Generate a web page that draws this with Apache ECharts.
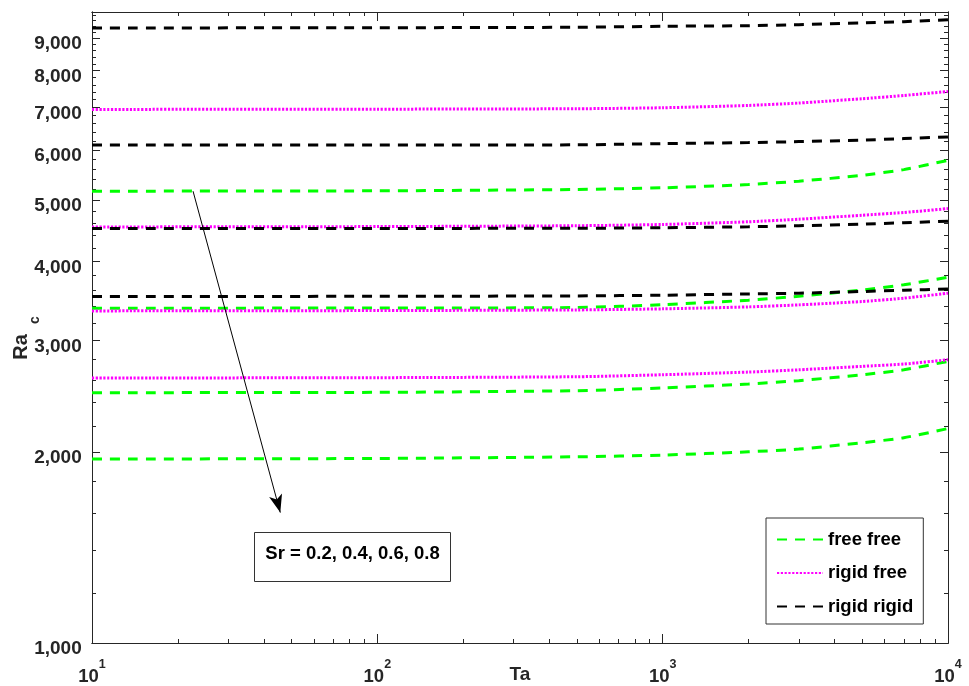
<!DOCTYPE html>
<html>
<head>
<meta charset="utf-8">
<script src="https://cdn.jsdelivr.net/npm/echarts@6/dist/echarts.min.js"></script>
<style>
  html, body { margin: 0; padding: 0; background: #fff; }
  #chart { width: 969px; height: 686px; }
</style>
</head>
<body>
<div id="chart"></div>
<script>
// Taylor number sample points (x axis, log scale)
const taValues = [10, 100, 500, 1000, 2000, 3000, 5000, 7000, 10000];

// Critical Rayleigh number, free-free boundaries, Sr = 0.2, 0.4, 0.6, 0.8
const freeFreeSr02 = [5163, 5170, 5195, 5227, 5290, 5354, 5470, 5584, 5776];
const freeFreeSr04 = [3375, 3377, 3383, 3418, 3475, 3525, 3605, 3675, 3776];
const freeFreeSr06 = [2483, 2486, 2501, 2526, 2563, 2594, 2650, 2698, 2782];
const freeFreeSr08 = [1951, 1955, 1967, 1979, 2003, 2023, 2070, 2108, 2180];

// Rigid-free boundaries
const rigidFreeSr02 = [6949, 6955, 6966, 6991, 7050, 7112, 7224, 7310, 7417];
const rigidFreeSr04 = [4534, 4540, 4554, 4575, 4620, 4663, 4731, 4778, 4847];
const rigidFreeSr06 = [3342, 3346, 3354, 3367, 3391, 3416, 3458, 3500, 3564];
const rigidFreeSr08 = [2619, 2622, 2631, 2650, 2676, 2698, 2732, 2755, 2799];

// Rigid-rigid boundaries
const rigidRigidSr02 = [9342, 9350, 9366, 9400, 9420, 9454, 9513, 9558, 9627];
const rigidRigidSr04 = [6104, 6106, 6110, 6137, 6160, 6182, 6216, 6250, 6289];
const rigidRigidSr06 = [4509, 4510, 4512, 4521, 4537, 4554, 4580, 4603, 4630];
const rigidRigidSr08 = [3521, 3524, 3529, 3538, 3555, 3564, 3586, 3602, 3620];

// Axis ticks and labels
const xMajorTicks = [10, 100, 1000, 10000];
const xMinorTicks = [20, 30, 40, 50, 60, 70, 80, 90,
                     200, 300, 400, 500, 600, 700, 800, 900,
                     2000, 3000, 4000, 5000, 6000, 7000, 8000, 9000];
const yMajorTicks = [1000, 2000, 3000, 4000, 5000, 6000, 7000, 8000, 9000];
const yMinorTicks = [];
for (let v = 1200; v <= 9800; v += 200) { if (v % 1000 !== 0) yMinorTicks.push(v); }

// Annotation arrow (data coordinates) and its caption
const arrowStart = [22.6, 5163];
const arrowEnd = [45.7, 1606];
const srCaption = 'Sr = 0.2, 0.4, 0.6, 0.8';
const legendNames = ['free free', 'rigid free', 'rigid rigid'];

const FONT = "'Liberation Sans', Arial, Helvetica, sans-serif";
const AXIS_COLOR = '#262626';

const groups = [
  { name: legendNames[0], color: '#00ff00', dash: [10, 8], width: 3, sets: [freeFreeSr02, freeFreeSr04, freeFreeSr06, freeFreeSr08] },
  { name: legendNames[1], color: '#ff00ff', dash: [2.2, 1.6], width: 3, sets: [rigidFreeSr02, rigidFreeSr04, rigidFreeSr06, rigidFreeSr08] },
  { name: legendNames[2], color: '#000000', dash: [10, 8], width: 3, sets: [rigidRigidSr02, rigidRigidSr04, rigidRigidSr06, rigidRigidSr08] }
];

const series = [];
groups.forEach(function (g, gi) {
  g.sets.forEach(function (vals) {
    series.push({
      type: 'line',
      name: g.name,
      xAxisIndex: 0,
      yAxisIndex: 0,
      data: taValues.map(function (t, i) { return [t, vals[i]]; }),
      symbol: 'none',
      smooth: 0.2,
      z: 2 + gi,
      lineStyle: { color: g.color, width: g.width, type: g.dash },
      itemStyle: { color: g.color }
    });
  });
});

// Arrow pointing in the direction of increasing Sr
series.push({
  type: 'line',
  name: 'arrow',
  xAxisIndex: 0,
  yAxisIndex: 0,
  data: [],
  symbol: 'none',
  z: 6,
  markLine: {
    silent: true,
    animation: false,
    symbol: ['none', 'arrow'],
    symbolSize: [10, 18],
    label: { show: false },
    lineStyle: { color: '#000', width: 1, type: 'solid' },
    itemStyle: { color: '#000' },
    data: [[{ coord: arrowStart }, { coord: arrowEnd }]]
  }
});

function xAxisDef(position, ticks, len, withLabels) {
  return {
    type: 'log', logBase: 10, min: 10, max: 10000, position: position,
    axisLine: { show: true, onZero: false, lineStyle: { color: AXIS_COLOR, width: 1 } },
    axisTick: { show: true, inside: true, length: len, customValues: ticks, lineStyle: { color: AXIS_COLOR, width: 1 } },
    axisLabel: withLabels ? {
      show: true, margin: 15, customValues: xMajorTicks,
      formatter: function (v) { return '{b|10}{s|' + Math.round(Math.log10(v)) + '}'; },
      rich: {
        b: { fontSize: 18.5, fontWeight: 'bold', fontFamily: FONT, color: AXIS_COLOR, lineHeight: 28, verticalAlign: 'bottom' },
        s: { fontSize: 12.5, fontWeight: 'bold', fontFamily: FONT, color: AXIS_COLOR, lineHeight: 12, verticalAlign: 'top' }
      }
    } : { show: false },
    splitLine: { show: false },
    minorTick: { show: false },
    minorSplitLine: { show: false }
  };
}

function yAxisDef(position, ticks, len, withLabels) {
  return {
    type: 'log', logBase: 10, min: 1000, max: 9900, position: position,
    axisLine: { show: true, onZero: false, lineStyle: { color: AXIS_COLOR, width: 1 } },
    axisTick: { show: true, inside: true, length: len, customValues: ticks, lineStyle: { color: AXIS_COLOR, width: 1 } },
    axisLabel: withLabels ? {
      show: true, margin: 10, customValues: yMajorTicks,
      formatter: function (v) { return '{v|' + Math.round(v).toLocaleString('en-US') + '}{p| }'; },
      rich: {
        v: { fontSize: 19, fontWeight: 'bold', fontFamily: FONT, color: AXIS_COLOR, lineHeight: 19, verticalAlign: 'bottom' },
        p: { fontSize: 1, lineHeight: 31, verticalAlign: 'bottom' }
      }
    } : { show: false },
    splitLine: { show: false },
    minorTick: { show: false },
    minorSplitLine: { show: false }
  };
}

const chart = echarts.init(document.getElementById('chart'), null, { renderer: 'canvas' });
chart.setOption({
  animation: false,
  backgroundColor: '#ffffff',
  grid: { left: 92, right: 21, top: 12, bottom: 40, containLabel: false },
  xAxis: [
    xAxisDef('bottom', xMajorTicks, 9, true),
    xAxisDef('top', xMajorTicks, 9, false),
    xAxisDef('bottom', xMinorTicks, 4, false),
    xAxisDef('top', xMinorTicks, 4, false)
  ],
  yAxis: [
    yAxisDef('left', yMajorTicks, 8, true),
    yAxisDef('right', yMajorTicks, 8, false),
    yAxisDef('left', yMinorTicks, 4, false),
    yAxisDef('right', yMinorTicks, 4, false)
  ],
  legend: {
    data: legendNames,
    orient: 'vertical',
    left: 766,
    top: 518,
    padding: [12, 10, 8, 10],
    itemGap: 14.5,
    itemWidth: 46,
    itemHeight: 14,
    borderColor: '#333',
    borderWidth: 1,
    backgroundColor: '#fff',
    selectedMode: false,
    itemStyle: { opacity: 0 },
    textStyle: { fontSize: 18.5, fontWeight: 'bold', color: '#000', fontFamily: FONT, lineHeight: 18 }
  },
  graphic: [
    {
      type: 'group', left: 254, top: 532, z: 10,
      children: [
        { type: 'rect', shape: { x: 0, y: 0, width: 196, height: 49 }, style: { fill: '#fff', stroke: '#333', lineWidth: 1 } },
        { type: 'text', x: 98, y: 21, style: { text: srCaption, fontSize: 18.5, fontWeight: 'bold', fontFamily: FONT, fill: '#000', align: 'center', verticalAlign: 'middle' } }
      ]
    },
    { type: 'text', x: 520, y: 675, z: 10, style: { text: 'Ta', fontSize: 19, fontWeight: 'bold', fontFamily: FONT, fill: AXIS_COLOR, align: 'center', verticalAlign: 'middle' } },
    { type: 'text', x: 21, y: 347, rotation: Math.PI / 2, z: 10, style: { text: 'Ra', fontSize: 20, fontWeight: 'bold', fontFamily: FONT, fill: AXIS_COLOR, align: 'center', verticalAlign: 'middle' } },
    { type: 'text', x: 35, y: 320, rotation: Math.PI / 2, z: 10, style: { text: 'c', fontSize: 14, fontWeight: 'bold', fontFamily: FONT, fill: AXIS_COLOR, align: 'center', verticalAlign: 'middle' } }
  ],
  series: series
});
</script>
</body>
</html>
